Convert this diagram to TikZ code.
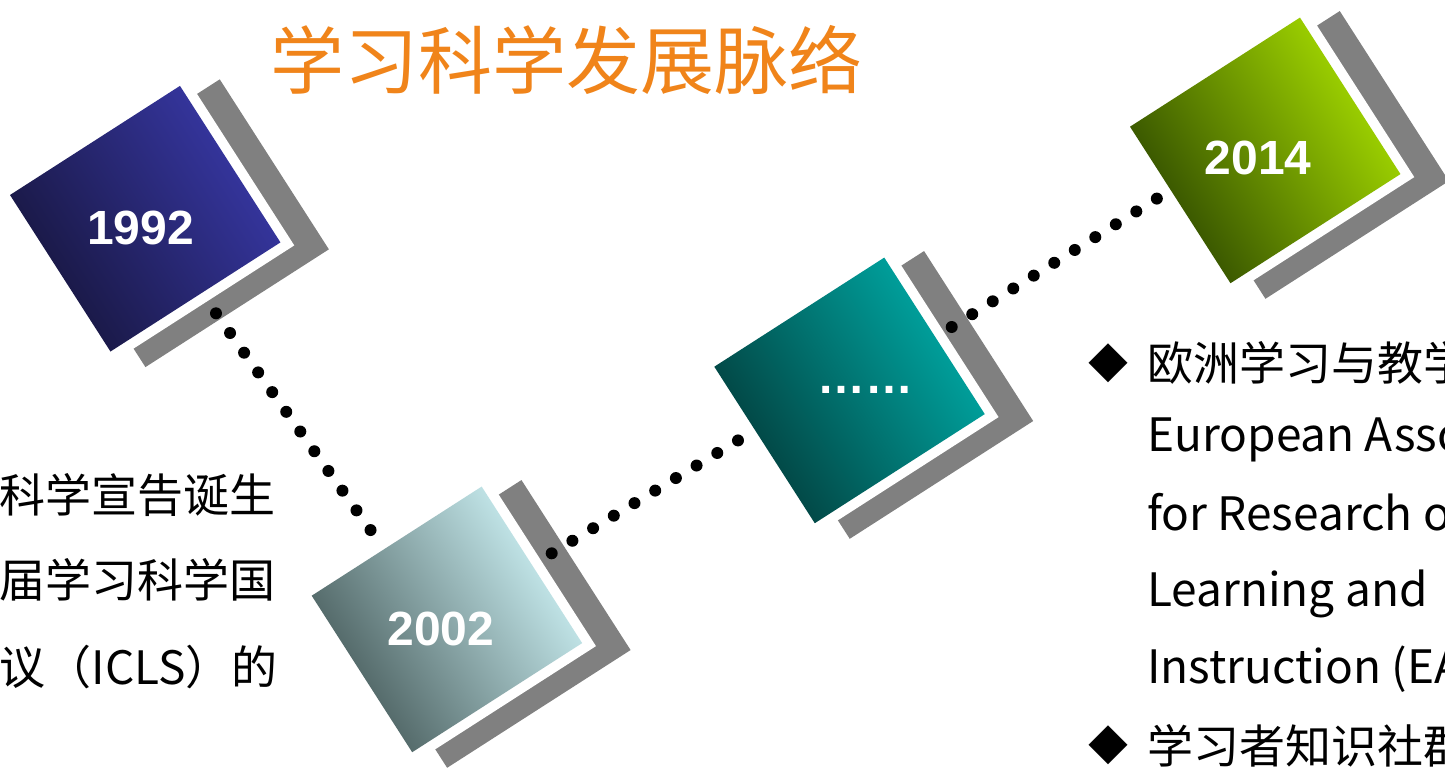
\documentclass[tikz,border=0pt]{standalone}
\usepackage{fontspec}
\setmainfont{Liberation Sans}
\newfontfamily\cjk{Noto Sans CJK SC}
\definecolor{titleorange}{RGB}{240,132,26}
\definecolor{grayback}{RGB}{128,128,128}
\definecolor{navyD}{RGB}{27,26,74}
\definecolor{navyL}{RGB}{52,52,154}
\definecolor{slateD}{RGB}{86,108,108}
\definecolor{slateM}{RGB}{140,170,172}
\definecolor{slateL}{RGB}{190,225,228}
\definecolor{tealD}{RGB}{2,74,72}
\definecolor{tealL}{RGB}{0,157,153}
\definecolor{oliveD}{RGB}{60,90,0}
\definecolor{oliveL}{RGB}{153,204,0}
\tikzset{
  yearlabel/.style={text=white, font=\fontsize{48}{50}\selectfont\bfseries, inner sep=0pt},
  dotline/.style={line width=12pt, line cap=round, dash pattern=on 0pt off 24.2pt},
  bodytext/.style={font=\cjk\fontsize{46}{50}\selectfont, inner sep=0pt},
  bulletmark/.style={font=\cjk\fontsize{40}{44}\selectfont, inner sep=0pt},
}
\newcommand{\tilecard}[3]{%
  \begin{scope}[shift={#1}, rotate=32.7]
    \fill[grayback] (21,16) rectangle (239,218);
    \fill[white] (-6,-6) rectangle (212,196);
  \end{scope}
  \begin{scope}[transform canvas={shift={#1}, rotate=32.7}]
    \shade[left color=#2, right color=#3] (0,0) rectangle (202,186);
  \end{scope}
}
\begin{document}
\begin{tikzpicture}[x=1pt, y=-1pt]
\useasboundingbox (0,0) rectangle (1445,771);
\fill[white] (0,0) rectangle (1445,771);
\clip (0,0) rectangle (1445,771);

% title
\node[text=titleorange, font=\cjk\fontsize{74}{80}\selectfont, inner sep=0pt] (title) at (566,60) {学习科学发展脉络};

% tiles
\tilecard{(10,195)}{navyD}{navyL}
\tilecard{(311.7,595.7)}{slateD}{slateL}
\tilecard{(714.3,366.7)}{tealD}{tealL}
\tilecard{(1130,126.7)}{oliveD}{oliveL}

% year labels
\node[yearlabel] (y1992) at (140.5,228) {1992};
\node[yearlabel] (y2002) at (441,629) {2002};
\node[yearlabel] (ydots) at (865,390) {……};
\node[yearlabel] (y2014) at (1258,157.5) {2014};

% dotted connectors
\coordinate (d1s) at (216,313.3);
\coordinate (d1e) at (371,530.7);
\coordinate (d2s) at (551.7,553.3);
\coordinate (d2e) at (738.7,440);
\coordinate (d3s) at (951.7,327);
\coordinate (d3e) at (1157.3,198.3);
\draw[dotline] (d1s) -- (d1e);
\draw[dotline] (d2s) -- (d2e);
\draw[dotline] (d3s) -- (d3e);

% left text
\node[bodytext, anchor=base east] (l1) at (276,512) {科学宣告诞生};
\node[bodytext, anchor=base east] (l2) at (276,597) {届学习科学国};
\node[bodytext, anchor=base east] (l3) at (278,684) {议（ICLS）的};

% right text
\node[bulletmark] (b1) at (1108,363) {◆};
\node[bodytext, anchor=base west] (r1) at (1147,380) {欧洲学习与教学};
\node[bodytext, anchor=base west] (r2) at (1147,451.7) {European Asso};
\node[bodytext, anchor=base west] (r3) at (1147,530) {for Research on};
\node[bodytext, anchor=base west] (r4) at (1147,606.7) {Learning and};
\node[bodytext, anchor=base west] (r5) at (1147,683) {Instruction (EA};
\node[bulletmark] (b2) at (1108,745) {◆};
\node[bodytext, anchor=base west] (r6) at (1147,763) {学习者知识社群};
\end{tikzpicture}
\end{document}
